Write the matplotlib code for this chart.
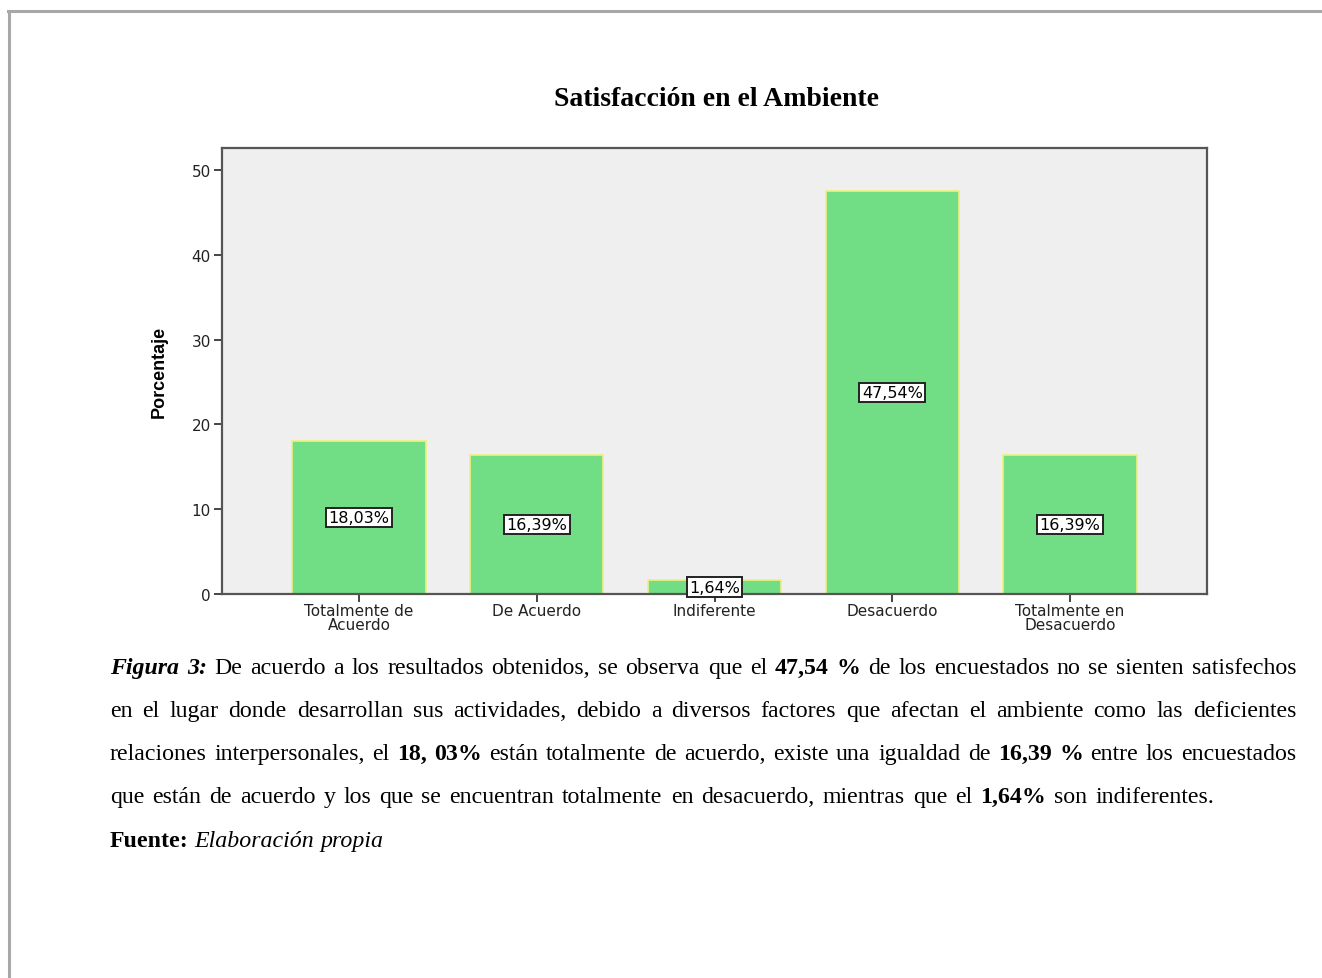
import numpy as np
import matplotlib.pyplot as plt
from matplotlib.lines import Line2D

# ---------------- datos ----------------
categorias = ["Totalmente de\nAcuerdo", "De Acuerdo", "Indiferente",
              "Desacuerdo", "Totalmente en\nDesacuerdo"]
porcentajes = [18.03, 16.39, 1.64, 47.54, 16.39]
marcas_y = [0, 10, 20, 30, 40, 50]

titulo = "Satisfacción en el Ambiente"

# texto de la figura: cada linea es una lista de (texto, peso, estilo)
lineas = [
    [("Figura 3:", "bold", "italic"),
     ("De acuerdo a los resultados obtenidos, se observa que el", "normal", "normal"),
     ("47,54 %", "bold", "normal"),
     ("de los encuestados no se sienten satisfechos", "normal", "normal")],
    [("en el lugar donde desarrollan sus actividades, debido a diversos factores que afectan el ambiente como las deficientes",
      "normal", "normal")],
    [("relaciones interpersonales, el", "normal", "normal"),
     ("18, 03%", "bold", "normal"),
     ("están totalmente de acuerdo, existe una igualdad de", "normal", "normal"),
     ("16,39 %", "bold", "normal"),
     ("entre los encuestados", "normal", "normal")],
    [("que están de acuerdo y los que se encuentran totalmente en desacuerdo, mientras que el", "normal", "normal"),
     ("1,64%", "bold", "normal"),
     ("son indiferentes.", "normal", "normal")],
]
fuente = [("Fuente:", "bold", "normal"), ("Elaboración propia", "normal", "italic")]

# ---------------- figura ----------------
W, H = 1322, 979
fig = plt.figure(figsize=(W / 100, H / 100), dpi=100)
fig.patch.set_facecolor("white")

# marco gris de la pagina (arriba e izquierda)
fig.add_artist(Line2D([8 / W, 1], [1 - 12 / H, 1 - 12 / H], color="#a8a8a8", lw=2.2))
fig.add_artist(Line2D([9 / W, 9 / W], [0, 1 - 12 / H], color="#a8a8a8", lw=2.2))

fig.text(716 / W, 1 - 100 / H, titulo, ha="center", va="center",
         fontsize=20, fontweight="bold", family="Liberation Serif")

ax = fig.add_axes([222 / W, 1 - 595 / H, (1207 - 222) / W, (595 - 149) / H])
ax.set_facecolor("#efefef")

x = np.arange(len(categorias))
ax.bar(x, porcentajes, width=0.75, color="#71dd85", edgecolor="#eef07c",
       linewidth=1.2, zorder=2)

for xi, v in zip(x, porcentajes):
    etiqueta = ("%.2f%%" % v).replace(".", ",")
    ax.text(xi, v / 2, etiqueta, ha="center", va="center", fontsize=11.5,
            family="DejaVu Sans", color="black", zorder=4, clip_on=False,
            bbox=dict(boxstyle="square,pad=0.15", fc="white", ec="#222222", lw=1.4))

ax.set_xlim(-0.77, 4.77)
ax.set_ylim(0, 52.6)
ax.set_yticks(marcas_y)
ax.set_yticklabels([str(m) for m in marcas_y], fontsize=11, family="DejaVu Sans", color="#222222")
ax.set_xticks(x)
ax.set_xticklabels(categorias, fontsize=11, family="DejaVu Sans", color="#222222",
                   linespacing=0.88)
ax.tick_params(axis="both", length=6, width=1.4, color="#444444", pad=2)
ax.tick_params(axis="x", pad=0.5)
for lado in ax.spines.values():
    lado.set_color("#555555")
    lado.set_linewidth(1.6)

ax.set_ylabel("Porcentaje", fontsize=13, fontweight="bold",
              family="Liberation Sans", labelpad=17)

# ---------------- texto justificado ----------------
renderer = fig.canvas.get_renderer()
TAM = 17.2
IZQ, DER = 110, 1296
SERIF = "Liberation Serif"


def escribir_linea(piezas, y_px, justificar=True, espacio=8.0):
    palabras = []
    for texto, peso, estilo in piezas:
        for p in texto.split():
            palabras.append((p, peso, estilo))
    objs = []
    for p, peso, estilo in palabras:
        t = fig.text(0, 1 - y_px / H, p, fontsize=TAM, fontweight=peso,
                     fontstyle=estilo, family=SERIF, va="baseline", ha="left")
        objs.append(t)
    anchos = [t.get_window_extent(renderer).width for t in objs]
    if justificar and len(objs) > 1:
        hueco = (DER - IZQ - sum(anchos)) / (len(objs) - 1)
    else:
        hueco = espacio
    xpos = IZQ
    for t, a in zip(objs, anchos):
        t.set_x(xpos / W)
        xpos += a + hueco


base = [674, 717, 760, 803]
for i, (piezas, y) in enumerate(zip(lineas, base)):
    escribir_linea(piezas, y, justificar=(i < len(lineas) - 1))
escribir_linea(fuente, 847, justificar=False, espacio=6.0)

fig.savefig("out.png", dpi=100)
